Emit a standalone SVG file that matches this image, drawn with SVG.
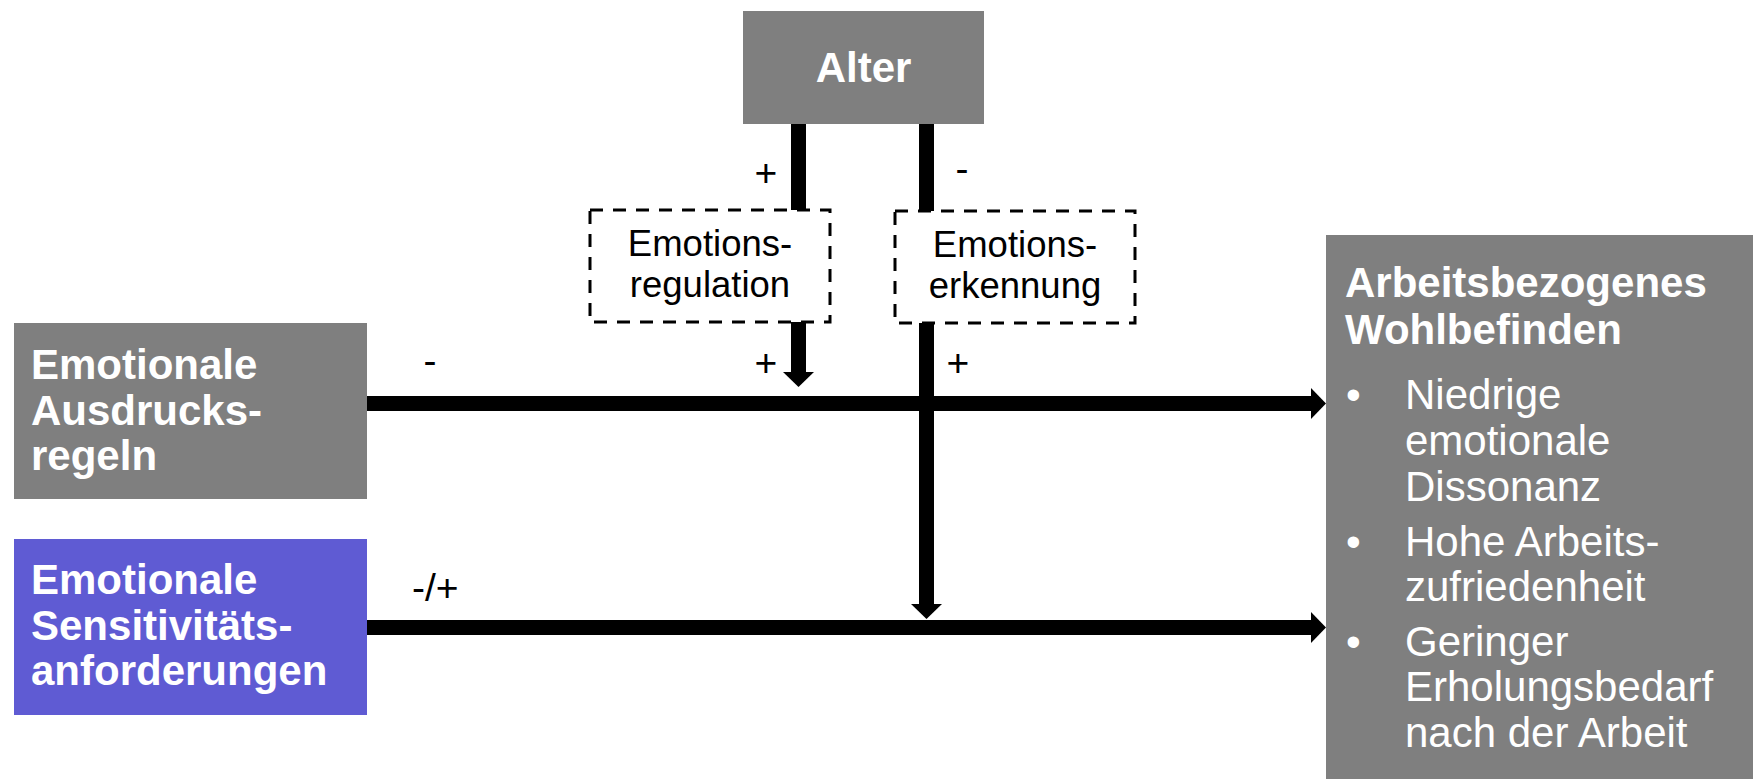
<svg xmlns="http://www.w3.org/2000/svg" width="1753" height="779" viewBox="0 0 1753 779">
  <style>
    .box { fill: #7f7f7f; }
    .purple { fill: #5f5bd3; }
    .dash { fill: #ffffff; stroke: #000000; stroke-width: 3; stroke-dasharray: 13 10; }
    .wb { font-family: "Liberation Sans", Arial, sans-serif; font-weight: bold; font-size: 42px; fill: #ffffff; }
    .wr { font-family: "Liberation Sans", Arial, sans-serif; font-size: 42px; fill: #ffffff; }
    .br { font-family: "Liberation Sans", Arial, sans-serif; font-size: 36.5px; fill: #000000; }
    .sign { font-family: "Liberation Sans", Arial, sans-serif; font-size: 39px; fill: #000000; }
    .conn { stroke: #000000; stroke-width: 15; fill: none; }
  </style>
  <defs>
    <marker id="head" viewBox="0 0 15 31" refX="0" refY="15.5" markerWidth="15" markerHeight="31" markerUnits="userSpaceOnUse" orient="auto">
      <path d="M0,0 L15,15.5 L0,31 Z" fill="#000000"/>
    </marker>
  </defs>
  <rect width="1753" height="779" fill="#ffffff"/>

  <g id="connectors">
    <line class="conn" x1="798.5" y1="123" x2="798.5" y2="211"/>
    <line class="conn" x1="926.5" y1="123" x2="926.5" y2="212"/>
    <line class="conn" x1="798.5" y1="322" x2="798.5" y2="372" marker-end="url(#head)"/>
    <line class="conn" x1="926.5" y1="322" x2="926.5" y2="604" marker-end="url(#head)"/>
    <line class="conn" x1="366" y1="403.5" x2="1311" y2="403.5" marker-end="url(#head)"/>
    <line class="conn" x1="366" y1="627.5" x2="1311" y2="627.5" marker-end="url(#head)"/>
    <text class="sign" x="766" y="185.5" text-anchor="middle">+</text>
    <text class="sign" x="962" y="182" text-anchor="middle">-</text>
    <text class="sign" x="766" y="375.5" text-anchor="middle">+</text>
    <text class="sign" x="958" y="375.5" text-anchor="middle">+</text>
    <text class="sign" x="430" y="374" text-anchor="middle">-</text>
    <text class="sign" x="412" y="601">-/+</text>
  </g>

  <g id="alter">
    <rect class="box" x="743" y="11" width="241" height="113"/>
    <text class="wb" x="863.5" y="82" text-anchor="middle">Alter</text>
  </g>

  <g id="emotionsregulation">
    <rect class="dash" x="590" y="210" width="240" height="112"/>
    <text class="br" x="710" y="256" text-anchor="middle">Emotions-</text>
    <text class="br" x="710" y="297" text-anchor="middle">regulation</text>
  </g>

  <g id="emotionserkennung">
    <rect class="dash" x="895" y="211" width="240" height="112"/>
    <text class="br" x="1015" y="257" text-anchor="middle">Emotions-</text>
    <text class="br" x="1015" y="298" text-anchor="middle">erkennung</text>
  </g>

  <g id="ausdrucksregeln">
    <rect class="box" x="14" y="323" width="353" height="176"/>
    <text class="wb" x="31" y="379">Emotionale</text>
    <text class="wb" x="31" y="425">Ausdrucks-</text>
    <text class="wb" x="31" y="470">regeln</text>
  </g>

  <g id="sensitivitaet">
    <rect class="purple" x="14" y="539" width="353" height="176"/>
    <text class="wb" x="31" y="594">Emotionale</text>
    <text class="wb" x="31" y="640">Sensitivitäts-</text>
    <text class="wb" x="31" y="685">anforderungen</text>
  </g>

  <g id="wohlbefinden">
    <rect class="box" x="1326" y="235" width="427" height="544"/>
    <text class="wb" x="1345" y="297">Arbeitsbezogenes</text>
    <text class="wb" x="1345" y="344">Wohlbefinden</text>
    <text class="wr" x="1346" y="409">•</text>
    <text class="wr" x="1405" y="409">Niedrige</text>
    <text class="wr" x="1405" y="455">emotionale</text>
    <text class="wr" x="1405" y="501">Dissonanz</text>
    <text class="wr" x="1346" y="556">•</text>
    <text class="wr" x="1405" y="556">Hohe Arbeits-</text>
    <text class="wr" x="1405" y="601">zufriedenheit</text>
    <text class="wr" x="1346" y="656">•</text>
    <text class="wr" x="1405" y="656">Geringer</text>
    <text class="wr" x="1405" y="701">Erholungsbedarf</text>
    <text class="wr" x="1405" y="747">nach der Arbeit</text>
  </g>
</svg>
